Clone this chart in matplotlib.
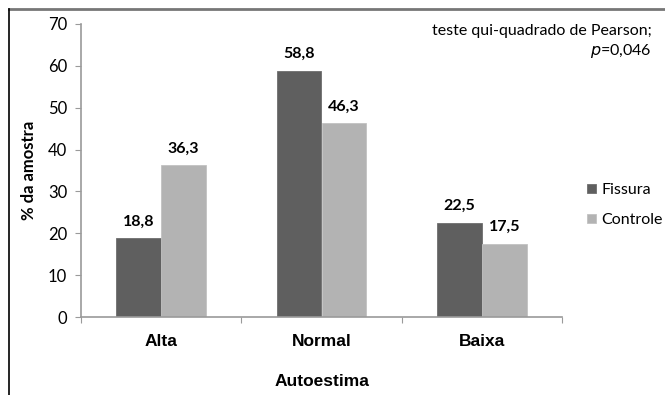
import numpy as np
import matplotlib.pyplot as plt
from matplotlib.lines import Line2D

categories = ['Alta', 'Normal', 'Baixa']
fissura = [18.8, 58.8, 22.5]
controle = [36.3, 46.3, 17.5]
series_names = ['Fissura', 'Controle']
yticks = [0, 10, 20, 30, 40, 50, 60, 70]

dark = '#5f5f5f'
light = '#b3b3b3'
axis_gray = '#9a9a9a'

fig = plt.figure(figsize=(6.65, 3.95), dpi=100)
ax = fig.add_axes([81/665, 1-317/395, (562-81)/665, (317-24)/395])

x = np.arange(len(categories))
w = 0.28
b1 = ax.bar(x - w/2, fissura, w, color=dark, edgecolor='#6e6e6e', lw=0.6,
            label=series_names[0])
b2 = ax.bar(x + w/2, controle, w, color=light, edgecolor='#c2c2c2', lw=0.6,
            label=series_names[1])

for bars in (b1, b2):
    for r in bars:
        ax.text(r.get_x() + r.get_width()/2, r.get_height() + 2.3,
                f'{r.get_height():.1f}'.replace('.', ','),
                ha='center', va='bottom', fontsize=11.5, fontweight='bold',
                family='Lato')

ax.set_xlim(-0.5, len(categories) - 0.5)
ax.set_ylim(0, 70)
ax.set_yticks(yticks)
ax.set_yticklabels([str(t) for t in yticks], fontsize=12, family='Lato')

# category labels centred, ticks on the boundaries
ax.set_xticks(np.arange(len(categories) + 1) - 0.5)
ax.set_xticklabels([])
ax.set_xticks(x, minor=True)
ax.set_xticklabels(categories, minor=True, fontsize=12.5, fontweight='bold',
                   family='Liberation Sans')
ax.tick_params(axis='x', which='minor', length=0, pad=12)
ax.tick_params(axis='x', which='major', length=4, color=axis_gray, direction='out')
ax.tick_params(axis='y', length=4, color=axis_gray, pad=6)

for s in ['top', 'right']:
    ax.spines[s].set_visible(False)
for s in ['left', 'bottom']:
    ax.spines[s].set_color(axis_gray)
    ax.spines[s].set_linewidth(1.2)

ax.set_ylabel('% da amostra', fontsize=12, fontweight='bold',
              family='Lato', labelpad=8)
fig.text(322/665, 1-382/395, 'Autoestima', ha='center', va='center',
         fontsize=12.5, fontweight='bold', family='Liberation Sans')

leg = ax.legend(loc='center left', bbox_to_anchor=(587/665, 1-205/395),
                bbox_transform=fig.transFigure, borderaxespad=0, borderpad=0,
                frameon=False, prop={'family': 'Lato', 'size': 11.5},
                handlelength=0.55, handleheight=0.55, handletextpad=0.35,
                labelspacing=1.0)

fig.text(652/665, 1-31/395, 'teste qui-quadrado de Pearson;', ha='right',
         va='center', fontsize=11.5, family='Lato')
fig.text(652/665, 1-51/395, r'$\mathit{p}$=0,046', ha='right', va='center',
         fontsize=11.5, family='Lato')

# outer frame (top and left visible)
fig.add_artist(Line2D([9/665, 1], [1-9/395, 1-9/395], color='#777777', lw=2,
                      transform=fig.transFigure))
fig.add_artist(Line2D([9/665, 9/665], [0, 1-9/395], color='black', lw=1.2,
                      transform=fig.transFigure))

fig.savefig('out.png', dpi=100)
